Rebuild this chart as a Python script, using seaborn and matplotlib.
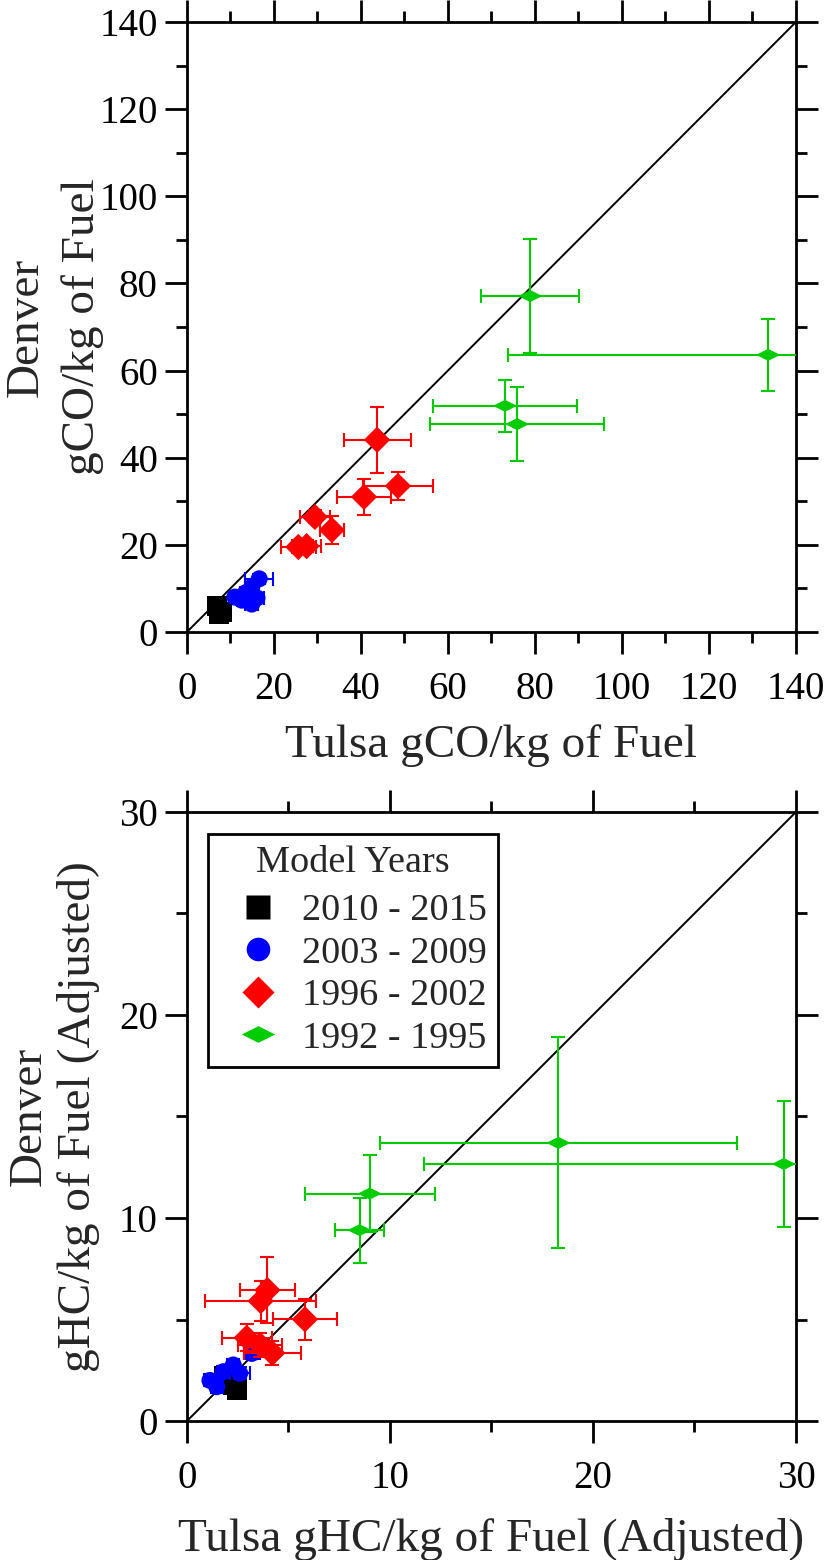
import numpy as np
import pandas as pd
import matplotlib
matplotlib.use("Agg")
import matplotlib.pyplot as plt
from matplotlib.path import Path
from matplotlib.lines import Line2D
from matplotlib.ticker import MultipleLocator
import seaborn as sns

# ---------------- data ----------------
groups = ["2010 - 2015", "2003 - 2009", "1996 - 2002", "1992 - 1995"]
group_colors = ["#000000", "#0000FF", "#FF0000", "#00CC00"]

# CO panel (Tulsa x, Denver y, errors)
co_black_x = [6.8, 7.3, 8.0]
co_black_y = [6.0, 4.2, 4.6]
co_black_xe = [0.5, 0.5, 0.5]
co_black_ye = [0.5, 0.5, 0.5]

co_blue_x = [16.6, 14.9, 11.0, 14.9, 12.6, 16.1, 13.5]
co_blue_y = [12.2, 10.3, 8.0, 6.4, 7.3, 7.8, 9.0]
co_blue_xe = [3.2, 1.5, 1.2, 1.5, 1.2, 1.5, 1.3]
co_blue_ye = [1.2, 1.0, 0.8, 0.8, 0.8, 0.8, 0.9]

co_red_x = [43.7, 48.5, 40.7, 29.4, 33.3, 25.6, 27.5]
co_red_y = [44.1, 33.5, 31.0, 26.4, 23.4, 19.5, 19.7]
co_red_xe = [7.7, 8.0, 6.3, 3.4, 2.7, 4.0, 3.4]
co_red_ye = [7.6, 3.2, 4.1, 1.5, 3.2, 1.3, 1.3]

co_green_x = [78.9, 133.6, 73.1, 75.9]
co_green_y = [77.1, 63.6, 51.9, 47.7]
co_green_xe = [11.3, 59.8, 16.6, 20.0]
co_green_ye = [13.1, 8.2, 6.0, 8.5]

# HC panel
hc_black_x = [1.8, 2.25, 2.45]
hc_black_y = [2.2, 1.75, 1.55]
hc_black_xe = [0.2, 0.2, 0.2]
hc_black_ye = [0.2, 0.2, 0.2]

hc_blue_x = [1.13, 1.79, 2.28, 2.6, 1.46, 3.19]
hc_blue_y = [2.0, 2.43, 2.76, 2.35, 1.69, 3.33]
hc_blue_xe = [0.3, 0.3, 0.3, 0.5, 0.3, 0.4]
hc_blue_ye = [0.3, 0.3, 0.3, 0.3, 0.3, 0.3]

hc_red_x = [3.96, 3.63, 5.81, 2.94, 4.2, 3.6]
hc_red_y = [6.45, 5.91, 5.01, 4.10, 3.35, 3.75]
hc_red_xe = [1.37, 2.75, 1.56, 1.23, 1.4, 1.1]
hc_red_ye = [1.64, 1.0, 1.0, 0.67, 0.6, 0.6]

hc_green_x = [9.0, 8.5, 18.3, 29.4]
hc_green_y = [11.2, 9.4, 13.7, 12.66]
hc_green_xe = [3.2, 1.2, 8.8, 17.7]
hc_green_ye = [1.9, 1.6, 5.2, 3.1]

co_limits = [0, 140]
hc_limits = [0, 30]

# ---------------- style ----------------
sns.set_style("ticks")
plt.rcParams["font.family"] = ["Liberation Serif", "DejaVu Serif"]

flat_diamond = Path([(-1, 0), (0, 0.5), (1, 0), (0, -0.5), (-1, 0)],
                    [Path.MOVETO, Path.LINETO, Path.LINETO, Path.LINETO, Path.CLOSEPOLY])
markers = ["s", "o", "D", flat_diamond]
marker_s = [207, 150, 180, 300]
legend_ms = [17, 17, 16.5, 24]


def make_df(xs, ys, xes, yes):
    frames = []
    for g, x, y, xe, ye in zip(groups, xs, ys, xes, yes):
        frames.append(pd.DataFrame({"group": g, "x": x, "y": y, "xerr": xe, "yerr": ye}))
    return pd.concat(frames, ignore_index=True)


co_df = make_df([co_black_x, co_blue_x, co_red_x, co_green_x],
                [co_black_y, co_blue_y, co_red_y, co_green_y],
                [co_black_xe, co_blue_xe, co_red_xe, co_green_xe],
                [co_black_ye, co_blue_ye, co_red_ye, co_green_ye])
hc_df = make_df([hc_black_x, hc_blue_x, hc_red_x, hc_green_x],
                [hc_black_y, hc_blue_y, hc_red_y, hc_green_y],
                [hc_black_xe, hc_blue_xe, hc_red_xe, hc_green_xe],
                [hc_black_ye, hc_blue_ye, hc_red_ye, hc_green_ye])

fig = plt.figure(figsize=(8.34, 15.6), dpi=100)
ax1 = fig.add_axes([0.2242, 0.5949, 0.7302, 0.391])
ax2 = fig.add_axes([0.2242, 0.0891, 0.7302, 0.3904])


def draw_panel(ax, df, limits, major, minor, xlabel, ylabel, ylab_x, linesp, xpad):
    ax.plot(limits, limits, color="black", lw=1.4, zorder=1)
    for i, g in enumerate(groups):
        sub = df[df["group"] == g]
        ax.errorbar(sub["x"], sub["y"], xerr=sub["xerr"], yerr=sub["yerr"],
                    fmt="none", ecolor=group_colors[i], elinewidth=1.5,
                    capsize=5, capthick=1.5, zorder=2 + 2 * i)
        sns.scatterplot(data=sub, x="x", y="y", ax=ax, marker=markers[i],
                        s=marker_s[i], color=group_colors[i], edgecolor="none",
                        linewidth=0, zorder=3 + 2 * i, legend=False)
    ax.set_xlim(limits)
    ax.set_ylim(limits)
    ax.xaxis.set_major_locator(MultipleLocator(major))
    ax.yaxis.set_major_locator(MultipleLocator(major))
    ax.xaxis.set_minor_locator(MultipleLocator(minor))
    ax.yaxis.set_minor_locator(MultipleLocator(minor))
    ax.tick_params(which="both", direction="out", top=True, right=True,
                   labeltop=False, labelright=False, width=2, colors="black")
    ax.tick_params(which="major", length=16, labelsize=28)
    ax.tick_params(which="minor", length=8)
    ax.tick_params(axis="x", which="major", pad=12)
    ax.tick_params(axis="y", which="major", pad=5)
    for sp in ax.spines.values():
        sp.set_visible(True)
        sp.set_linewidth(2)
        sp.set_color("black")
    ax.set_xlabel(xlabel, fontsize=34, labelpad=xpad)
    ax.set_ylabel(ylabel, fontsize=34, linespacing=linesp)
    ax.yaxis.set_label_coords(ylab_x, 0.5)


draw_panel(ax1, co_df, co_limits, 20, 10, "Tulsa gCO/kg of Fuel",
           "Denver\ngCO/kg of Fuel", -0.137, 1.4, 12)
draw_panel(ax2, hc_df, hc_limits, 10, 5, "Tulsa gHC/kg of Fuel (Adjusted)",
           "Denver\ngHC/kg of Fuel (Adjusted)", -0.143, 1.2, 15)

handles = [Line2D([], [], linestyle="none", marker=markers[i], markersize=legend_ms[i],
                  markerfacecolor=group_colors[i], markeredgecolor="none")
           for i in range(len(groups))]
leg = ax2.legend(handles, groups, title="Model Years", loc="upper left",
                 bbox_to_anchor=(0.0345, 0.964), borderaxespad=0, fontsize=27.5,
                 title_fontsize=27.5, frameon=True, fancybox=False, shadow=False,
                 handlelength=2.0, handletextpad=0.15, labelspacing=0.2,
                 borderpad=0.3)
leg.get_frame().set_edgecolor("black")
leg.get_frame().set_linewidth(2)
leg.get_frame().set_alpha(1)
leg._legend_box.sep = 10

fig.savefig("out.png", dpi=100, facecolor="white")
